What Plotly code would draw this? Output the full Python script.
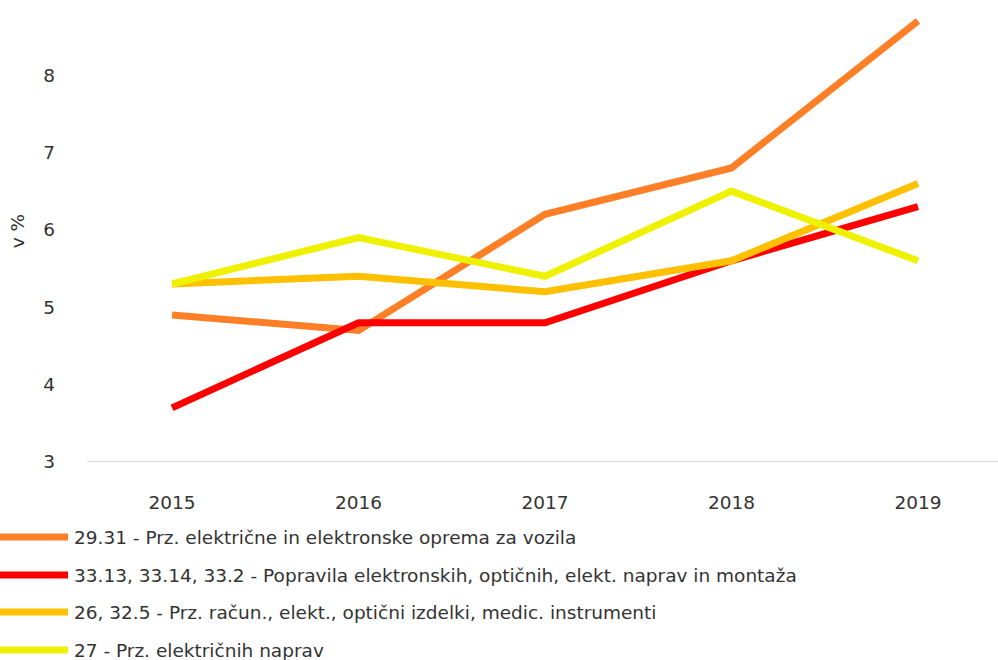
import plotly.graph_objects as go

years = [2015, 2016, 2017, 2018, 2019]
series_names = [
    "29.31 - Prz. električne in elektronske oprema za vozila",
    "33.13, 33.14, 33.2 - Popravila elektronskih, optičnih, elekt. naprav in montaža",
    "26, 32.5 - Prz. račun., elekt., optični izdelki, medic. instrumenti",
    "27 - Prz. električnih naprav",
]
s_2931 = [4.9, 4.7, 6.2, 6.8, 8.7]
s_3313 = [3.7, 4.8, 4.8, 5.6, 6.3]
s_26 = [5.3, 5.4, 5.2, 5.6, 6.6]
s_27 = [5.3, 5.9, 5.4, 6.5, 5.6]
series_values = [s_2931, s_3313, s_26, s_27]
colors = ["#FF7F27", "#FF0000", "#FFC000", "#EEF200"]
y_ticks = [3, 4, 5, 6, 7, 8]

FONT = "DejaVu Sans"
TXT = "#333333"
FS = 18.5

L, B, W, PH, H = 87, 198, 911, 462, 660

fig = go.Figure()
for name, vals, col in zip(series_names, series_values, colors):
    fig.add_trace(go.Scatter(x=years, y=vals, name=name, mode="lines",
                             line=dict(color=col, width=7), showlegend=False))

# custom legend (long line symbols)
shapes = []
annotations = []
leg_y = [537, 575, 612, 650]
for name, col, py in zip(series_names, colors, leg_y):
    yy = (H - py - B) / PH
    shapes.append(dict(type="line", xref="paper", yref="paper",
                       x0=(0 - L) / W, x1=(68 - L) / W, y0=yy, y1=yy,
                       line=dict(color=col, width=7)))
    annotations.append(dict(text=name, xref="paper", yref="paper",
                            x=(72 - L) / W, y=yy, xanchor="left", yanchor="middle",
                            showarrow=False, font=dict(family=FONT, size=FS, color=TXT)))

fig.update_layout(
    width=998, height=660,
    margin=dict(l=L, r=0, t=0, b=B, autoexpand=False),
    paper_bgcolor="white", plot_bgcolor="white",
    font=dict(family=FONT, size=FS, color=TXT),
    shapes=shapes, annotations=annotations,
    xaxis=dict(range=[2014.544, 2019.429], tickvals=years, ticktext=[str(y) for y in years],
               showgrid=False, zeroline=False, showline=False, ticks="",
               ticklabelstandoff=27, tickfont=dict(size=FS, color=TXT)),
    yaxis=dict(range=[3, 8.97], tickvals=y_ticks, showgrid=False, zeroline=False,
               showline=False, ticks="", ticklabelstandoff=31,
               title=dict(text="v %", standoff=13, font=dict(size=FS, color=TXT)),
               tickfont=dict(size=FS, color=TXT)),
)
# baseline at y=3
fig.add_hline(y=3, line=dict(color="#D9D9D9", width=2), layer="below")
fig.write_html("out.html", config={"displayModeBar": False},
               post_script="document.body.style.margin='0px';")
